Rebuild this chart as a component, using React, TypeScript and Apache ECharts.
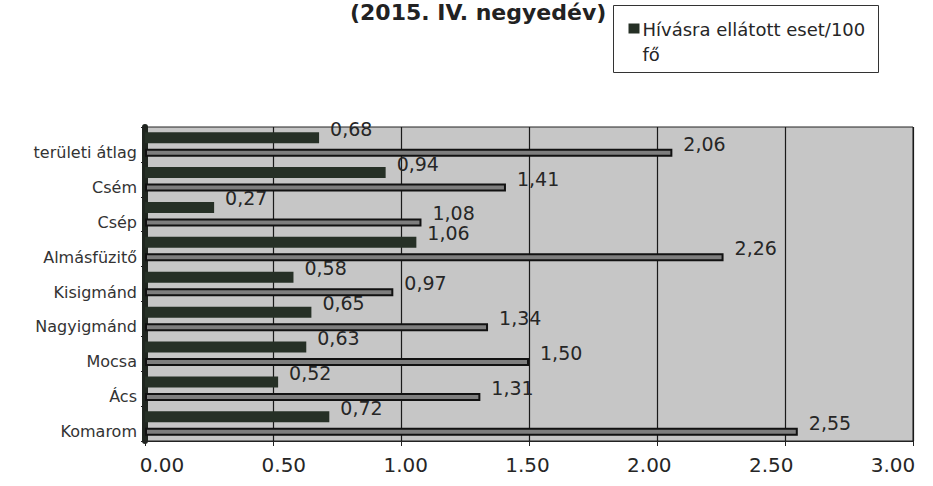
import React, { useEffect, useRef } from "react";
import * as echarts from "echarts";

const categories = ["Komarom", "Ács", "Mocsa", "Nagyigmánd", "Kisigmánd", "Almásfüzitő", "Csép", "Csém", "területi átlag"];
const callsPer100 = [0.72, 0.52, 0.63, 0.65, 0.58, 1.06, 0.27, 0.94, 0.68];
const otherSeries = [2.55, 1.31, 1.50, 1.34, 0.97, 2.26, 1.08, 1.41, 2.06];
const xTicks = [0, 0.5, 1, 1.5, 2, 2.5, 3];
const legendName = "Hívásra ellátott eset/100 fő";
const titleText = "(2015. IV. negyedév)";

const FONT = "DejaVu Sans";

export default function App() {
  const ref = useRef<HTMLDivElement>(null);
  useEffect(() => {
    if (!ref.current) return;
    const chart = echarts.init(ref.current, undefined, { renderer: "svg" });
    const valueLabel = {
      show: true,
      position: "right" as const,
      offset: [6, -9],
      fontFamily: FONT,
      fontSize: 19,
      color: "#262626",
      formatter: (p: any) => Number(p.value).toFixed(2).replace(".", ","),
    };
    chart.setOption({
      animation: false,
      backgroundColor: "#ffffff",
      title: {
        text: titleText,
        left: 345,
        top: -4,
        textStyle: { fontFamily: FONT, fontSize: 22, fontWeight: "bold", color: "#222" },
      },
      grid: [
        {
          left: 145,
          right: 20,
          top: 127,
          bottom: 45,
          show: true,
          backgroundColor: "#c6c6c6",
          borderColor: "#222",
          borderWidth: 1,
        },
        { left: 162, right: 40, top: 127, bottom: 45 },
      ],
      xAxis: [
        {
          type: "value",
          gridIndex: 0,
          min: 0,
          max: 3,
          interval: 0.5,
          axisLabel: { show: false },
          axisTick: { show: true, length: 5, lineStyle: { color: "#222" } },
          axisLine: { show: true, lineStyle: { color: "#222", width: 1 } },
          splitLine: { show: true, lineStyle: { color: "#1a1a1a", width: 1.2 } },
        },
        {
          type: "value",
          gridIndex: 1,
          min: xTicks[0],
          max: xTicks[xTicks.length - 1],
          interval: 0.5,
          axisLine: { show: false },
          axisTick: { show: false },
          splitLine: { show: false },
          axisLabel: {
            margin: 14,
            fontFamily: FONT,
            fontSize: 20,
            color: "#262626",
            formatter: (v: number) => v.toFixed(2),
          },
        },
      ],
      yAxis: [
        {
          type: "category",
          gridIndex: 0,
          data: categories,
          axisLine: { show: true, lineStyle: { color: "#1f251f", width: 6 } },
          axisTick: { show: true, length: 4, lineStyle: { color: "#222" } },
          axisLabel: {
            margin: 8,
            fontFamily: FONT,
            fontSize: 16,
            lineHeight: 16,
            verticalAlign: "top",
            color: "#333",
          },
        },
        {
          type: "category",
          gridIndex: 1,
          data: categories,
          show: false,
        },
      ],
      series: [
        {
          name: legendName,
          type: "bar",
          xAxisIndex: 0,
          yAxisIndex: 0,
          data: callsPer100,
          barWidth: 11,
          barGap: "50%",
          itemStyle: { color: "#263026" },
          label: valueLabel,
        },
        {
          name: "egyéb",
          type: "bar",
          xAxisIndex: 0,
          yAxisIndex: 0,
          data: otherSeries,
          barWidth: 8,
          itemStyle: { color: "#7e7e7e", borderColor: "#111", borderWidth: 2 },
          label: valueLabel,
        },
      ],
      graphic: [
        {
          type: "group",
          left: 613,
          top: 5,
          children: [
            {
              type: "rect",
              shape: { x: 0, y: 0, width: 265, height: 67 },
              style: { fill: "#fff", stroke: "#333", lineWidth: 1 },
            },
            {
              type: "rect",
              shape: { x: 15, y: 18, width: 11, height: 10 },
              style: { fill: "#263026" },
            },
            {
              type: "text",
              x: 29,
              y: 11,
              style: {
                text: "Hívásra ellátott eset/100\nfő",
                fontFamily: FONT,
                fontSize: 18,
                lineHeight: 25,
                fill: "#262626",
              },
            },
          ],
        },
      ],
    });
    return () => chart.dispose();
  }, []);
  return (
    <div
      ref={ref}
      style={{ position: "absolute", left: 0, top: 0, width: 933, height: 486 }}
    />
  );
}
